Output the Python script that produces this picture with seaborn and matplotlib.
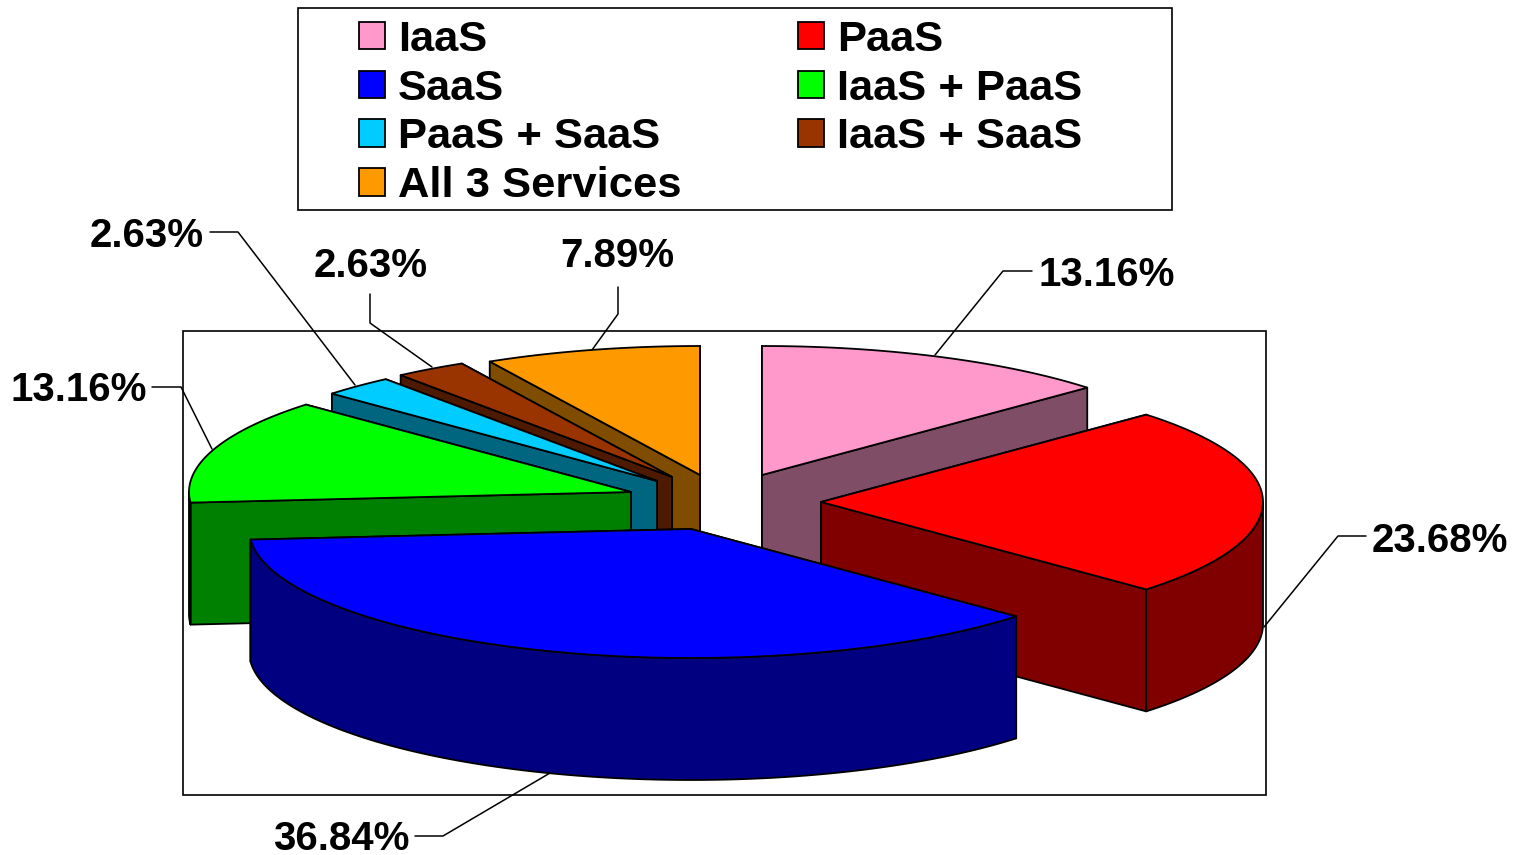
import numpy as np
import seaborn as sns
from matplotlib import pyplot as plt
from matplotlib.patches import Patch, Polygon, Rectangle

labels = ['IaaS', 'PaaS', 'SaaS', 'IaaS + PaaS', 'PaaS + SaaS', 'IaaS + SaaS', 'All 3 Services']
shares = [13.16, 23.68, 36.84, 13.16, 2.63, 2.63, 7.89]
colors = ['#FF99CC', '#FF0000', '#0000FF', '#00FF00', '#00CCFF', '#993300', '#FF9900']

# where each exploded slice has its tip, in pixels
tip_x = [762, 821, 691, 631, 657, 672, 700]
tip_y = [475, 502, 529, 492, 481, 477, 475]
draw_order = [0, 6, 5, 4, 3, 1, 2]

rx, ry, depth = 442, 129, 122

# label text, text position, leader line
pct_labels = [
    ('13.16%', 1107, 275, [(1032, 271), (1003, 271), (935, 355)]),
    ('23.68%', 1440, 541, [(1366, 536), (1338, 536), (1264, 627)]),
    ('36.84%', 341, 839, [(415, 836), (443, 836), (550, 773)]),
    ('13.16%', 79, 390, [(152, 387), (181, 387), (212, 449)]),
    ('2.63%', 147, 236, [(210, 232), (238, 232), (355, 385)]),
    ('2.63%', 371, 266, [(370, 294), (370, 323), (432, 367)]),
    ('7.89%', 617, 256, [(618, 287), (618, 314), (592, 350)]),
]

sns.set_style('white')
plt.rcParams['font.family'] = ['Liberation Sans', 'DejaVu Sans']
plt.rcParams['font.weight'] = 'bold'

palette = sns.color_palette(colors)
fig = plt.figure(figsize=(15.19, 8.55), dpi=100)
ax = fig.add_axes([0, 0, 1, 1])
ax.set_xlim(0, 1519)
ax.set_ylim(855, 0)
ax.axis('off')

ax.add_patch(Rectangle((183, 331), 1083, 464, fc='white', ec='black', lw=1.2, zorder=1))
ax.add_patch(Rectangle((298, 8), 874, 202, fc='white', ec='black', lw=1.2, zorder=1))

bounds = np.cumsum([0] + shares) / sum(shares) * 2 * np.pi
edge = dict(ec='black', lw=1.3, joinstyle='round')
z = 2


def add_poly(pts, color):
    global z
    ax.add_patch(Polygon(pts, closed=True, fc=color, zorder=z, **edge))
    z += 1


for i in draw_order:
    cx, cy = tip_x[i], tip_y[i]
    top_col = palette[i]
    side_col = tuple(c * 0.5 for c in top_col)
    a0, a1 = bounds[i], bounds[i + 1]

    # radial faces, the one further back first
    rim = [(cx + rx * np.sin(a), cy - ry * np.cos(a)) for a in (a0, a1)]
    rim.sort(key=lambda p: p[1])
    for px, py in rim:
        add_poly([(cx, cy), (px, py), (px, py + depth), (cx, cy + depth)], side_col)

    # outer wall, only the part that faces the viewer
    lo, hi = max(a0, np.pi / 2), min(a1, 3 * np.pi / 2)
    if lo < hi:
        t = np.linspace(lo, hi, 120)
        xs = cx + rx * np.sin(t)
        ys = cy - ry * np.cos(t)
        add_poly(np.r_[np.c_[xs, ys], np.c_[xs, ys + depth][::-1]], side_col)

    t = np.linspace(a0, a1, 160)
    add_poly(np.r_[[(cx, cy)], np.c_[cx + rx * np.sin(t), cy - ry * np.cos(t)]], top_col)

for text, x, y, line in pct_labels:
    ax.text(x, y, text, fontsize=29, ha='center', va='center', color='black', zorder=z + 1)
    ax.plot(*zip(*line), color='black', lw=1.1, zorder=z + 1)

# legend fills by column, the chart reads by row
order = [0, 2, 4, 6, 1, 3, 5]
handles = [Patch(fc=palette[i], ec='black', lw=1.3, label=labels[i]) for i in order]
leg = ax.legend(handles=handles, ncol=2, loc='upper left', bbox_to_anchor=(359, 20),
                bbox_transform=ax.transData, borderaxespad=0, borderpad=0, fontsize=31.3,
                handlelength=0.6, handleheight=0.6, handletextpad=0.3,
                labelspacing=0.2, columnspacing=2.67, frameon=False, labelcolor='black')
leg.set_zorder(z + 2)

fig.savefig('out.png', dpi=100)
